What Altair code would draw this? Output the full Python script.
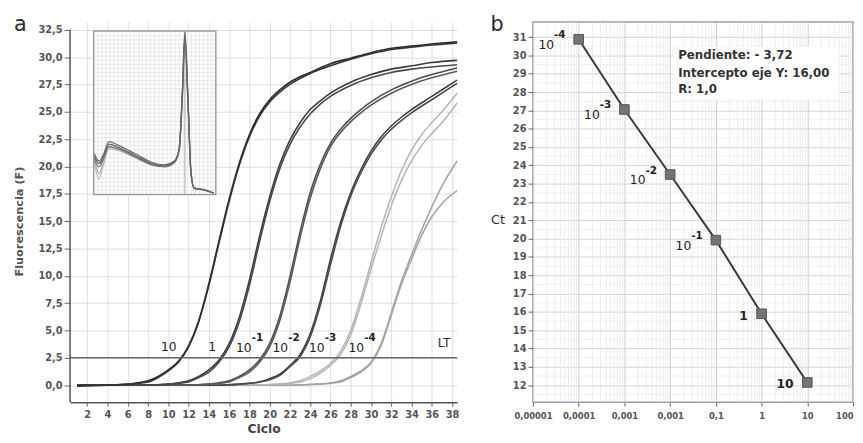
import json
import altair as alt
import pandas as pd
import numpy as np

FONT = "DejaVu Sans"
LABEL_GRAY = "#555555"

# ---------------- Panel a : amplification curves (cycle, fluorescence) ----------------
amp_10_r1 = [(1,0.0),(4,0.0),(6,0.1),(8,0.4),(9,0.8),(10,1.4),(11,2.2),(12,3.6),(13,5.9),(14,9.3),(15,13.2),(16,17.0),(17,20.3),(18,22.9),(19,24.8),(20,26.1),(21,27.0),(22,27.7),(24,28.6),(26,29.4),(28,29.9),(30,30.4),(32,30.8),(34,31.0),(36,31.2),(38.5,31.4)]
amp_10_r2 = [(1,-0.1),(4,0.0),(6,0.1),(8,0.3),(9,0.7),(10,1.3),(11,2.1),(12,3.5),(13,5.8),(14,9.1),(15,13.0),(16,16.8),(17,20.1),(18,22.7),(19,24.6),(20,25.9),(21,26.8),(22,27.5),(24,28.5),(26,29.2),(28,29.8),(30,30.3),(32,30.7),(34,30.9),(36,31.1),(38.5,31.3)]
amp_1_r1 = [(1,0.0),(8,0.0),(10,0.1),(12,0.4),(13,0.8),(14,1.4),(15,2.3),(16,3.8),(17,6.2),(18,9.6),(19,13.6),(20,17.2),(21,20.2),(22,22.4),(23,24.0),(24,25.2),(25,26.0),(26,26.7),(28,27.7),(30,28.4),(32,28.9),(34,29.2),(36,29.5),(38.5,29.7)]
amp_1_r2 = [(1,0.0),(8,0.0),(10,0.1),(12,0.3),(13,0.7),(14,1.2),(15,2.1),(16,3.5),(17,5.8),(18,9.1),(19,13.1),(20,16.8),(21,19.8),(22,22.0),(23,23.6),(24,24.8),(25,25.7),(26,26.4),(28,27.4),(30,28.1),(32,28.6),(34,28.9),(36,29.1),(38.5,29.3)]
amp_m1_r1 = [(1,0.0),(12,0.0),(14,0.1),(16,0.4),(17,0.8),(18,1.4),(19,2.3),(20,3.8),(21,6.3),(22,9.9),(23,14.0),(24,17.6),(25,20.2),(26,22.1),(27,23.4),(28,24.4),(29,25.2),(30,25.9),(32,27.0),(34,27.8),(36,28.4),(38.5,29.0)]
amp_m1_r2 = [(1,0.0),(12,0.0),(14,0.1),(16,0.3),(17,0.7),(18,1.2),(19,2.1),(20,3.5),(21,5.9),(22,9.4),(23,13.5),(24,17.1),(25,19.8),(26,21.8),(27,23.1),(28,24.1),(29,24.9),(30,25.6),(32,26.7),(34,27.5),(36,28.1),(38.5,28.7)]
amp_m2_r1 = [(1,0.0),(15,0.0),(17,0.1),(19,0.3),(20,0.6),(21,1.0),(22,1.8),(23,2.8),(24,4.7),(25,7.7),(26,11.5),(27,14.9),(28,17.6),(29,19.7),(30,21.4),(31,22.7),(32,23.7),(33,24.5),(34,25.2),(36,26.4),(38.5,27.9)]
amp_m2_r2 = [(1,0.0),(15,0.0),(17,0.1),(19,0.3),(20,0.5),(21,0.9),(22,1.7),(23,2.6),(24,4.4),(25,7.3),(26,11.0),(27,14.5),(28,17.3),(29,19.4),(30,21.1),(31,22.4),(32,23.4),(33,24.2),(34,24.9),(36,26.1),(38.5,27.6)]
amp_m3_r1 = [(1,0.0),(18,0.0),(21,0.1),(23,0.4),(24,0.8),(25,1.3),(26,2.0),(27,3.1),(28,5.0),(29,7.9),(30,11.2),(31,14.4),(32,17.2),(33,19.6),(34,21.5),(35,22.9),(36,24.0),(37,25.0),(38.5,26.7)]
amp_m3_r2 = [(1,0.0),(18,0.0),(21,0.1),(23,0.3),(24,0.6),(25,1.1),(26,1.8),(27,2.8),(28,4.6),(29,7.4),(30,10.6),(31,13.6),(32,16.4),(33,18.7),(34,20.5),(35,21.9),(36,23.0),(37,24.0),(38.5,25.8)]
amp_m4_r1 = [(1,0.0),(22,0.0),(25,0.1),(27,0.4),(28,0.8),(29,1.3),(30,2.1),(31,3.8),(32,6.6),(33,9.5),(34,11.9),(35,14.2),(36,16.3),(37,18.2),(38.5,20.5)]
amp_m4_r2 = [(1,0.0),(22,0.0),(25,0.1),(27,0.3),(28,0.7),(29,1.2),(30,2.0),(31,3.6),(32,6.4),(33,9.2),(34,11.5),(35,13.7),(36,15.4),(37,16.6),(38.5,17.8)]

# (series name, dilution, colour, is_light, points)
amp_series = [
    ("m4_r1", "10^-4", "#a3a3a3", True, amp_m4_r1),
    ("m4_r2", "10^-4", "#a3a3a3", True, amp_m4_r2),
    ("m3_r1", "10^-3", "#b4b4b4", True, amp_m3_r1),
    ("m3_r2", "10^-3", "#b4b4b4", True, amp_m3_r2),
    ("m2_r1", "10^-2", "#404040", False, amp_m2_r1),
    ("m2_r2", "10^-2", "#4a4a4a", False, amp_m2_r2),
    ("m1_r1", "10^-1", "#4f4f4f", False, amp_m1_r1),
    ("m1_r2", "10^-1", "#5a5a5a", False, amp_m1_r2),
    ("1_r1", "1", "#3c3c3c", False, amp_1_r1),
    ("1_r2", "1", "#484848", False, amp_1_r2),
    ("10_r1", "10", "#2a2a2a", False, amp_10_r1),
    ("10_r2", "10", "#343434", False, amp_10_r2),
]

threshold = 2.5
# cycle where each dilution crosses the threshold line
ct_a = [11.3, 15.2, 19.1, 22.7, 26.3, 30.2]
label_base_a = ["10", "1", "10", "10", "10", "10"]
label_exp_a = ["", "", "-1", "-2", "-3", "-4"]
lt_cycle = 36.6

x_ticks_a = list(range(2, 39, 2))
y_ticks_a = [0.0, 2.5, 5.0, 7.5, 10.0, 12.5, 15.0, 17.5, 20.0, 22.5, 25.0, 27.5, 30.0, 32.5]

# ---------------- Inset : melting curves (temperature, -dF/dT) ----------------
melt_T = [65.1, 66.3, 67.5, 68.7, 71.1, 75.2, 79.2, 82.4, 84.8, 86.0, 86.8, 87.4, 88.1, 88.9, 89.7, 92.1, 94.5]
melt_r1 = [2.39, 1.89, 2.39, 3.09, 2.89, 2.39, 1.89, 1.75, 1.99, 2.79, 6.40, 10.0, 6.40, 1.39, 0.38, 0.28, 0.08]
melt_r2 = [2.55, 2.05, 2.50, 3.25, 3.02, 2.50, 1.98, 1.82, 2.05, 2.85, 6.30, 9.80, 6.20, 1.35, 0.40, 0.30, 0.10]
melt_r3 = [2.20, 1.70, 2.25, 2.95, 2.78, 2.30, 1.82, 1.70, 1.95, 2.72, 6.20, 9.60, 6.10, 1.30, 0.36, 0.27, 0.07]
melt_r4 = [2.10, 0.95, 1.90, 2.80, 2.70, 2.25, 1.85, 1.72, 1.96, 2.70, 6.00, 9.30, 5.90, 1.28, 0.35, 0.26, 0.06]
melt_r5 = [2.30, 1.30, 2.10, 2.90, 2.80, 2.35, 1.90, 1.78, 2.00, 2.75, 6.10, 9.50, 6.00, 1.32, 0.37, 0.28, 0.09]
melt_series = [("r4", "#bdbdbd", melt_r4), ("r5", "#b0b0b0", melt_r5),
               ("r3", "#7a7a7a", melt_r3), ("r2", "#6e6e6e", melt_r2), ("r1", "#666666", melt_r1)]
melt_peak_T = 87.4
INSET_T = [65, 95]
INSET_V = [0, 10.05]

# ---------------- Panel b : standard curve ----------------
conc_b = [0.0001, 0.001, 0.01, 0.1, 1, 10]
ct_b = [30.88, 27.05, 23.5, 19.92, 15.9, 12.15]
label_base_b = ["10", "10", "10", "10", "1", "10"]
label_exp_b = ["-4", "-3", "-2", "-1", "", ""]
x_ticks_b = [1e-5, 1e-4, 1e-3, 1e-2, 1e-1, 1, 10, 100]
x_tick_labels_b = ["0,00001", "0,0001", "0,001", "0,001", "0,1", "1", "10", "100"]
y_ticks_b = list(range(12, 32))
stats_lines = ["Pendiente: - 3,72", "Intercepto eje Y: 16,00", "R: 1,0"]
stats_y = [30.0, 29.05, 28.15]
stats_x = 0.015
stats_box = (0.0115, 48, 27.58, 30.48)

# ---------------- sizes ----------------
W_A, H_A = 393, 386
W_B, H_B = 325, 386
XA_DOM = [0.3, 38.5]
YA_DOM = [-1.56, 33.2]
XB_DOM = [1e-5, 100]
YB_DOM = [11.07, 31.82]

# =====================================================================
# Panel a
# =====================================================================
rows = []
for name, dil, col, light, pts in amp_series:
    for c, v in pts:
        rows.append({"series": name, "dil": dil, "color": col, "light": light, "cycle": c, "F": v})
df_amp = pd.DataFrame(rows)

xa = alt.Scale(domain=XA_DOM, nice=False, zero=False)
ya = alt.Scale(domain=YA_DOM, nice=False, zero=False)

x_axis_a = alt.Axis(values=x_ticks_a, title="Ciclo", grid=True, gridColor="#dedede",
                    labelFontWeight="bold", labelFontSize=10, labelColor=LABEL_GRAY,
                    tickSize=4, tickColor="#666", domainColor="#555", domainWidth=1.5,
                    labelPadding=3, titleFontWeight="bold", titleFontSize=12.5,
                    titleColor="#444", titlePadding=4)
y_axis_a = alt.Axis(values=y_ticks_a, title="Fluorescencia (F)", grid=True, gridColor="#dedede",
                    labelExpr="replace(format(datum.value, '.1f'), '.', ',')",
                    labelFontWeight="bold", labelFontSize=10, labelColor=LABEL_GRAY,
                    tickSize=6, tickColor="#666", domain=False, labelPadding=2,
                    titleFontWeight="bold", titleFontSize=11.5, titleColor="#555",
                    titleX=-51, titleY=202, titleAlign="center", titleBaseline="middle")

curves_light = alt.Chart(df_amp[df_amp["light"]]).mark_line(
    interpolate="monotone", strokeWidth=1.5).encode(
    x=alt.X("cycle:Q", scale=xa, axis=x_axis_a),
    y=alt.Y("F:Q", scale=ya, axis=y_axis_a),
    color=alt.Color("color:N", scale=None),
    detail="series:N",
)
curves_dark = alt.Chart(df_amp[~df_amp["light"]]).mark_line(
    interpolate="monotone", strokeWidth=1.6).encode(
    x=alt.X("cycle:Q", scale=xa, axis=x_axis_a),
    y=alt.Y("F:Q", scale=ya, axis=y_axis_a),
    color=alt.Color("color:N", scale=None),
    detail="series:N",
)

thr_rule = alt.Chart(pd.DataFrame({"thr": [threshold]})).mark_rule(
    color="#6a6a6a", strokeWidth=1.5).encode(
    y=alt.Y("thr:Q", scale=ya, axis=y_axis_a))

y_line = alt.Chart(pd.DataFrame({"lo": [YA_DOM[0]], "hi": [32.5]})).mark_rule(
    color="#555", strokeWidth=1.5).encode(
    x=alt.value(0), y=alt.Y("lo:Q", scale=ya, axis=y_axis_a), y2="hi:Q")

df_lab_a = pd.DataFrame({"ct": ct_a, "base": label_base_a, "exp": label_exp_a,
                         "thr": [threshold] * len(ct_a)})
enc_lab_a = dict(x=alt.X("ct:Q", scale=xa, axis=x_axis_a), y=alt.Y("thr:Q", scale=ya, axis=y_axis_a))
lab_plain = alt.Chart(df_lab_a).transform_filter("datum.exp == ''").mark_text(
    align="right", baseline="middle", dx=-5, dy=-11, fontSize=12.5, color="#222").encode(
    text="base:N", **enc_lab_a)
lab_base = alt.Chart(df_lab_a).transform_filter("datum.exp != ''").mark_text(
    align="right", baseline="middle", dx=-9, dy=-10, fontSize=12.5, color="#222").encode(
    text="base:N", **enc_lab_a)
lab_exp = alt.Chart(df_lab_a).transform_filter("datum.exp != ''").mark_text(
    align="left", baseline="middle", dx=-9, dy=-20, fontSize=10.5, fontWeight="bold", color="#222").encode(
    text="exp:N", **enc_lab_a)
lab_lt = alt.Chart(pd.DataFrame({"x": [lt_cycle], "thr": [threshold], "t": ["LT"]})).mark_text(
    align="left", baseline="middle", dy=-15, fontSize=12.5, color="#333").encode(
    x=alt.X("x:Q", scale=xa, axis=x_axis_a), y=alt.Y("thr:Q", scale=ya, axis=y_axis_a), text="t:N")

letter_a = alt.Chart(pd.DataFrame({"t": ["a"]})).mark_text(
    align="left", baseline="alphabetic", fontSize=21, color="#2a2a2a").encode(
    x=alt.value(-57), y=alt.value(9), text="t:N")

main_a = alt.layer(curves_light, curves_dark, thr_rule, y_line,
                   lab_plain, lab_base, lab_exp, lab_lt, letter_a)

# ---------- inset ----------
ix = alt.Scale(domain=INSET_T, range=[24, 148], nice=False, zero=False)
iy = alt.Scale(domain=INSET_V, range=[175, 9], nice=False, zero=False)

mrows = []
for name, col, vals in melt_series:
    for t, v in zip(melt_T, vals):
        mrows.append({"rep": name, "color": col, "T": t, "d": v})
df_melt = pd.DataFrame(mrows)

box_df = pd.DataFrame({"t0": [INSET_T[0]], "t1": [INSET_T[1]], "v0": [INSET_V[0]], "v1": [INSET_V[1]]})
inset_bg = alt.Chart(box_df).mark_rect(fill="white").encode(
    x=alt.X("t0:Q", scale=ix, axis=None), x2="t1:Q",
    y=alt.Y("v0:Q", scale=iy, axis=None), y2="v1:Q")
grid_v_df = pd.DataFrame({"T": np.arange(66, 95, 1.0), "v0": INSET_V[0], "v1": INSET_V[1]})
grid_h_df = pd.DataFrame({"v": np.arange(0.25, 10.0, 0.25), "t0": INSET_T[0], "t1": INSET_T[1]})
inset_gv = alt.Chart(grid_v_df).mark_rule(color="#e0e0e0", strokeWidth=0.7).encode(
    x=alt.X("T:Q", scale=ix, axis=None), y=alt.Y("v0:Q", scale=iy, axis=None), y2="v1:Q")
inset_gh = alt.Chart(grid_h_df).mark_rule(color="#e0e0e0", strokeWidth=0.7).encode(
    y=alt.Y("v:Q", scale=iy, axis=None), x=alt.X("t0:Q", scale=ix, axis=None), x2="t1:Q")
inset_peak = alt.Chart(pd.DataFrame({"T": [melt_peak_T], "v0": INSET_V[0], "v1": INSET_V[1]})).mark_rule(
    color="#c4c4c4", strokeWidth=1.5).encode(
    x=alt.X("T:Q", scale=ix, axis=None), y=alt.Y("v0:Q", scale=iy, axis=None), y2="v1:Q")
inset_lines = alt.Chart(df_melt).mark_line(interpolate="monotone", strokeWidth=1.3).encode(
    x=alt.X("T:Q", scale=ix, axis=None), y=alt.Y("d:Q", scale=iy, axis=None),
    color=alt.Color("color:N", scale=None), detail="rep:N")
inset_frame = alt.Chart(box_df).mark_rect(fillOpacity=0, stroke="#9c9c9c", strokeWidth=1.5).encode(
    x=alt.X("t0:Q", scale=ix, axis=None), x2="t1:Q",
    y=alt.Y("v0:Q", scale=iy, axis=None), y2="v1:Q")

inset = alt.layer(inset_bg, inset_gv, inset_gh, inset_peak, inset_lines, inset_frame)

panel_a = alt.layer(main_a, inset).resolve_scale(x="independent", y="independent").properties(
    width=W_A, height=H_A, view=alt.ViewBackground(strokeOpacity=0))

# =====================================================================
# Panel b
# =====================================================================
xb = alt.Scale(type="log", domain=XB_DOM, nice=False)
yb = alt.Scale(domain=YB_DOM, nice=False, zero=False)

label_expr_b = json.dumps(x_tick_labels_b) + "[round(log(datum.value) / LN10) + 5]"
x_axis_b = alt.Axis(values=x_ticks_b, title=None, labelExpr=label_expr_b, grid=True,
                    gridColor="#cdcdcd", labelFontSize=8.5, labelFontWeight="bold",
                    labelColor=LABEL_GRAY, tickSize=4, tickColor="#666", domain=False,
                    labelPadding=5,
                    labelAlign={"condition": {"test": "datum.value >= 100", "value": "right"},
                                "value": "center"})
y_axis_b = alt.Axis(values=y_ticks_b, title="Ct", titleAngle=0, titleX=-36, titleY=200,
                    titleAlign="center", titleBaseline="middle", titleFontWeight="normal",
                    titleFontSize=13, titleColor="#333", grid=True, gridColor="#d4d4d4",
                    labelFontWeight="bold", labelFontSize=10, labelColor=LABEL_GRAY,
                    tickSize=5, tickColor="#666", domain=False, labelPadding=2)

minor_x = [k * 10.0 ** e for e in range(-5, 2) for k in range(2, 10)]
minor_y = [v + 0.5 for v in range(11, 31)]
gx = alt.Chart(pd.DataFrame({"v": minor_x})).mark_rule(color="#e9e9e9", strokeWidth=0.8).encode(
    x=alt.X("v:Q", scale=xb, axis=x_axis_b))
gy = alt.Chart(pd.DataFrame({"v": minor_y})).mark_rule(color="#ececec", strokeWidth=0.8).encode(
    y=alt.Y("v:Q", scale=yb, axis=y_axis_b))

df_b = pd.DataFrame({"conc": conc_b, "ct": ct_b, "base": label_base_b, "exp": label_exp_b})
enc_b = dict(x=alt.X("conc:Q", scale=xb, axis=x_axis_b), y=alt.Y("ct:Q", scale=yb, axis=y_axis_b))

stats_bg = alt.Chart(pd.DataFrame({"x0": [stats_box[0]], "x1": [stats_box[1]],
                                   "y0": [stats_box[2]], "y1": [stats_box[3]]})).mark_rect(fill="white").encode(
    x=alt.X("x0:Q", scale=xb, axis=x_axis_b), x2="x1:Q",
    y=alt.Y("y0:Q", scale=yb, axis=y_axis_b), y2="y1:Q")
stats_txt = alt.Chart(pd.DataFrame({"t": stats_lines, "y": stats_y, "x": [stats_x] * 3})).mark_text(
    align="left", baseline="middle", fontSize=12, fontWeight="bold", color="#333").encode(
    x=alt.X("x:Q", scale=xb, axis=x_axis_b), y=alt.Y("y:Q", scale=yb, axis=y_axis_b), text="t:N")

line_b = alt.Chart(df_b).mark_line(color="#383838", strokeWidth=2).encode(**enc_b)
pts_b = alt.Chart(df_b).mark_square(size=95, color="#747474", stroke="#555555",
                                    strokeWidth=1, opacity=1).encode(**enc_b)
lab_b_base = alt.Chart(df_b).transform_filter("datum.exp != ''").mark_text(
    align="right", baseline="middle", dx=-25, dy=6, fontSize=12.5, color="#222").encode(
    text="base:N", **enc_b)
lab_b_exp = alt.Chart(df_b).transform_filter("datum.exp != ''").mark_text(
    align="left", baseline="middle", dx=-25, dy=-4, fontSize=10.5, fontWeight="bold", color="#222").encode(
    text="exp:N", **enc_b)
lab_b_plain = alt.Chart(df_b).transform_filter("datum.exp == ''").mark_text(
    align="right", baseline="middle", dx=-14, dy=2, fontSize=12.5, fontWeight="bold", color="#222").encode(
    text="base:N", **enc_b)
letter_b = alt.Chart(pd.DataFrame({"t": ["b"]})).mark_text(
    align="left", baseline="alphabetic", fontSize=21, color="#2a2a2a").encode(
    x=alt.value(-43), y=alt.value(9), text="t:N")

panel_b = alt.layer(gx, gy, stats_bg, stats_txt, line_b, pts_b,
                    lab_b_base, lab_b_exp, lab_b_plain, letter_b).properties(
    width=W_B, height=H_B, view=alt.ViewBackground(stroke="#9a9a9a", strokeWidth=1.5))

chart = alt.hconcat(panel_a, panel_b, spacing=29).properties(
    padding={"left": 6, "top": 2, "right": 0, "bottom": 0},
    background="white",
).configure(font=FONT)

chart.save("out.html", embed_options={"renderer": "svg", "actions": False})
